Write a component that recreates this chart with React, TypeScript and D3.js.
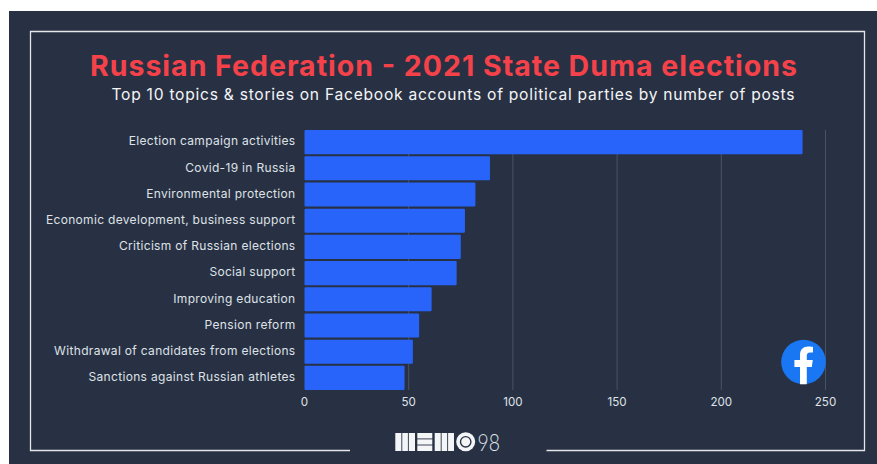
import React from "react";
import * as d3 from "d3";

const categories = [
  "Election campaign activities",
  "Covid-19 in Russia",
  "Environmental protection",
  "Economic development, business support",
  "Criticism of Russian elections",
  "Social support",
  "Improving education",
  "Pension reform",
  "Withdrawal of candidates from elections",
  "Sanctions against Russian athletes",
];
const posts = [239, 89, 82, 77, 75, 73, 61, 55, 52, 48];
const xTicks = [0, 50, 100, 150, 200, 250];
const titleText = "Russian Federation - 2021 State Duma elections";
const subtitleText = "Top 10 topics & stories on Facebook accounts of political parties by number of posts";

const FONT = "Inter, 'Open Sans', sans-serif";

export default function App() {
  const x = d3.scaleLinear().domain([0, 250]).range([304.5, 825.5]);
  const y = d3.scaleBand<string>().domain(categories).range([129, 391]).paddingInner(0.08).paddingOuter(0.04);
  return (
    <svg width={877} height={464} style={{ position: "absolute", left: 0, top: 0, display: "block" }}>
      <rect x={0} y={0} width={877} height={464} fill="#ffffff" />
      <rect x={9} y={11} width={868} height={453} fill="#283143" />
      <path d="M350 450.5H30.5V31.5H864.5V450.5H546.5" fill="none" stroke="#e4e6ea" strokeWidth={1.3} />
      <text x={443.5} y={76} textAnchor="middle" fontFamily={FONT} fontWeight={700} fontSize={28.5} fill="#f5424a" textLength={707} lengthAdjust="spacing">{titleText}</text>
      <text x={453} y={100} textAnchor="middle" fontFamily={FONT} fontWeight={400} fontSize={15.6} fill="#f4f5f7" textLength={683} lengthAdjust="spacing">{subtitleText}</text>
      {xTicks.slice(1).map((t) => (
        <line key={t} x1={x(t)} x2={x(t)} y1={130} y2={390} stroke="#4b5363" strokeWidth={1} />
      ))}
      {categories.map((c, i) => (
        <g key={c}>
          <rect x={x(0)} y={y(c)} width={x(posts[i]) - x(0)} height={y.bandwidth()} rx={1} fill="#2864fa" />
          <text x={295.5} y={y(c)! + y.bandwidth() / 2 + 3.2} textAnchor="end" fontFamily={FONT} fontSize={12} letterSpacing={0.32} fill="#dfe2e7">{c}</text>
        </g>
      ))}
      {xTicks.map((t) => (
        <text key={t} x={x(t)} y={406} textAnchor="middle" fontFamily={FONT} fontSize={11.6} fill="#dfe2e7">{t}</text>
      ))}
      {/* Facebook badge */}
      <circle cx={803.5} cy={362} r={22.3} fill="#1977f3" />
      <path d="M800 384.2V367H794.4V360H800V355C800 349.5 803.3 346.6 808.2 346.6C810.5 346.6 813 347 813 347V352.4H810.2C807.5 352.4 806.8 354 806.8 355.7V360H812.8L811.8 367H806.8V384.2Z" fill="#ffffff" />
      {/* MEMO 98 logo */}
      <g fill="#f4f5f7">
        <rect x={395.3} y={433} width={19.7} height={18} />
        <rect x={417.3} y={433} width={15} height={18} />
        <rect x={434.7} y={433} width={19.3} height={18} />
        <circle cx={465.7} cy={441.8} r={9.5} />
      </g>
      <g stroke="#283143" strokeWidth={0.9}>
        <line x1={401.8} x2={401.8} y1={433} y2={451} />
        <line x1={408.4} x2={408.4} y1={433} y2={451} />
        <line x1={417} x2={433} y1={438.9} y2={438.9} />
        <line x1={417} x2={433} y1={445} y2={445} />
        <line x1={441.2} x2={441.2} y1={433} y2={451} />
        <line x1={447.6} x2={447.6} y1={433} y2={451} />
      </g>
      <circle cx={465.7} cy={441.8} r={5.2} fill="none" stroke="#283143" strokeWidth={1.4} />
      <text x={477.5} y={450.8} fontFamily="Lato, sans-serif" fontWeight={300} fontSize={24} fill="#dfe2e7" textLength={22.5} lengthAdjust="spacingAndGlyphs">98</text>
    </svg>
  );
}
